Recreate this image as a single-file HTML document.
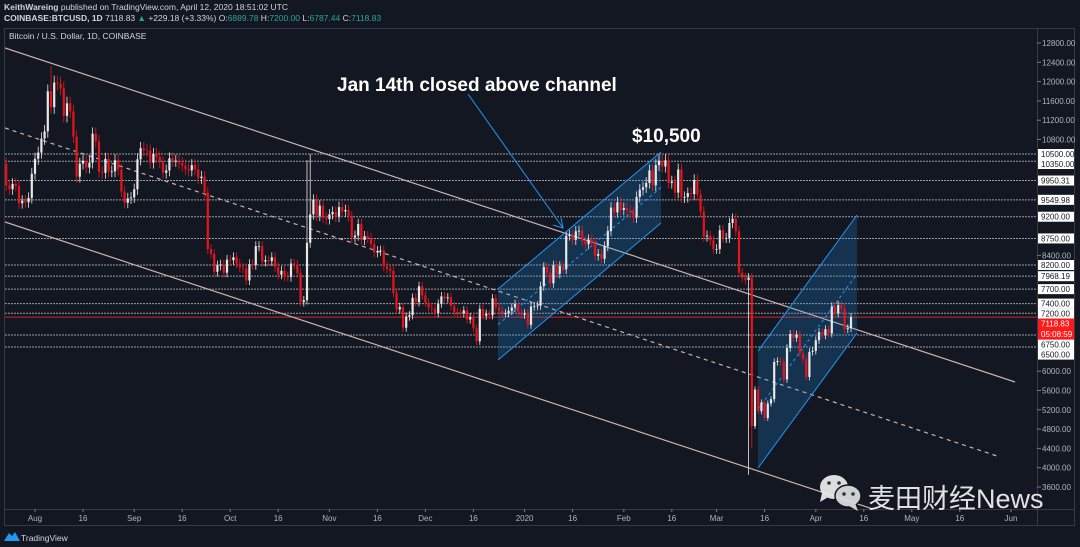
<!DOCTYPE html>
<html><head><meta charset="utf-8">
<style>
html,body{margin:0;padding:0;background:#131722;width:1080px;height:547px;overflow:hidden;font-family:"Liberation Sans","Noto Sans CJK SC",sans-serif;}
#hdr1{position:absolute;left:4px;top:2px;font-size:8.5px;color:#d1d4dc;}
#hdr2{position:absolute;left:4px;top:13px;font-size:8.5px;color:#d1d4dc;}
.g{color:#26a69a}
svg{position:absolute;left:0;top:0}
</style></head>
<body>
<div id="hdr1"><b>KeithWareing</b> published on TradingView.com, April 12, 2020 18:51:02 UTC</div>
<div id="hdr2"><b>COINBASE:BTCUSD, 1D</b> 7118.83 <span class="g">▲</span> +229.18 (+3.33%) O:<span class="g">6889.78</span> H:<span class="g">7200.00</span> L:<span class="g">6787.44</span> C:<span class="g">7118.83</span></div>
<svg id="chart" width="1080" height="547"></svg>
<script>
// ---- data ----
const startLabel = "2019-07-22";
const closes = [
10300,9850,9770,9880,9840,9480,9530,9500,9590,10090,
10400,10530,10820,10970,11800,11470,11980,11960,11860,11290,11550,11380,10860,10030,10300,10360,10220,10320,10920,10760,10130,10110,10400,10140,10140,10370,10180,9720,9490,9580,9600,
9770,10390,10620,10580,10570,10320,10500,10440,10330,10110,10160,10410,10360,10360,10310,10260,10190,10160,10270,10180,10000,10030,9700,8530,8430,8060,8190,8210,8040,8310,
8300,8360,8230,8150,8130,7880,8220,8200,8590,8590,8270,8300,8280,8360,8160,8000,8080,7960,7950,8230,8210,8030,7430,7470,8660,9250,9550,9220,9430,9180,9150,
9250,9300,9200,9400,9310,9340,9210,8770,8810,9050,8720,8800,8760,8630,8460,8490,8500,8170,8120,8080,7620,7280,7330,6900,7130,7160,7520,7430,7760,7570,
7420,7320,7300,7200,7400,7550,7510,7530,7350,7230,7210,7200,7260,7070,7120,6890,6620,7290,7150,7190,7160,7510,7320,7250,7200,7200,7250,7320,7390,7220,7170,
7200,6960,7340,7350,7360,7760,8160,8040,7820,8190,8020,8180,8110,8810,8820,8720,8900,8910,8700,8630,8730,8660,8390,8430,8330,8590,8900,9390,9290,9500,9340,
9380,9330,9290,9180,9610,9760,9810,9900,10160,9850,10270,10360,10240,10370,9900,9930,9700,10180,9600,9610,9690,9670,9960,9660,9310,8790,8810,8710,8530,
8530,8920,8760,8760,9070,9160,8900,8040,7940,7890,7940,4860,5620,5170,5350,5030,5330,5420,6190,6210,6190,5830,6480,6770,6690,6760,6370,6250,5880,6400,6420,
6640,6810,6740,6870,6780,7340,7200,7370,7300,6870,6890,7119
];
const firstOpen = 10580;
const extremeIdx = [15, 95, 96, 207, 233, 234, 176];
const extremeVal = [12320, 10370, 10500, 10500, 3850, 4400, 8880];
const priceTicks = [12800,12400,12000,11600,11200,10800,8400,6000,5600,5200,4800,4400,4000,3600,3200];
const levels = [10500,10350,9950.31,9549.98,9200,8750,8200,7968.19,7700,7400,7200,6750,6500];
const lastPrice = 7118.83;
const timeLabels = ["Aug","16","Sep","16","Oct","16","Nov","16","Dec","16","2020","16","Feb","16","Mar","16","Apr","16","May","16","Jun"];
const timeDays = [10,25,41,56,71,86,102,117,132,147,163,178,194,209,223,238,254,269,284,299,315];

// ---- scales ----
const PX_DAY = 3.2;
function xOf(i){ return 35 + (i - 10) * PX_DAY; }
function yOf(p){ return 43 + (12800 - p) * 0.04826; }

const NS = "http://www.w3.org/2000/svg";
const svg = document.getElementById('chart');
function mk(tag, attrs, parent){
  const e = document.createElementNS(NS, tag);
  for (const k in attrs) e.setAttribute(k, attrs[k]);
  (parent || svg).appendChild(e);
  return e;
}

const frame = mk('rect',{x:4.5,y:28.5,width:1070,height:497,fill:'#131722',stroke:'#363a45'});


const vsep = mk('line',{x1:1037.5,y1:28,x2:1037.5,y2:525,stroke:'#363a45'});


const hsep = mk('line',{x1:4,y1:509.5,x2:1075,y2:509.5,stroke:'#363a45'});



const title = mk('text',{x:9,y:39,fill:'#d1d4dc','font-size':8.5});
title.textContent = 'Bitcoin / U.S. Dollar, 1D, COINBASE';



const defs = mk('defs',{});
const cp = mk('clipPath',{id:'plot'},defs);
mk('rect',{x:5,y:29,width:1032,height:480},cp);
const plot = mk('g',{'clip-path':'url(#plot)'});



levels.forEach(p=>{
  const l = mk('line',{x1:5,x2:1037,y1:yOf(p),y2:yOf(p),stroke:'#9a9ca3','stroke-width':1,'stroke-dasharray':'2 1'},plot);
  
  
});
const lp = mk('line',{x1:5,x2:1037,y1:yOf(lastPrice),y2:yOf(lastPrice),stroke:'#c62828','stroke-width':1},plot);



const chCol = '#cfb3ab';
[[5,48,1015,382,''],[5,222,1015,556,''],[5,128,1000,457,'4 4']].forEach((c,k)=>{
  const l = mk('line',{x1:c[0],y1:c[1],x2:c[2],y2:c[3],stroke:chCol,'stroke-width':1.2,'stroke-dasharray':c[4]},plot);
  
  
});

function blueCh(x1,yt1,yb1,x2,yt2,yb2,name){
  const p = mk('polygon',{points:`${x1},${yt1} ${x2},${yt2} ${x2},${yb2} ${x1},${yb1}`,fill:'rgba(33,150,243,0.22)',stroke:'none'},plot);
  
  
  const a = mk('line',{x1:x1,y1:yt1,x2:x2,y2:yt2,stroke:'#2196f3','stroke-width':1},plot);
  
  
  const b = mk('line',{x1:x1,y1:yb1,x2:x2,y2:yb2,stroke:'#2196f3','stroke-width':1},plot);
  
  
  const m = mk('line',{x1:x1,y1:(yt1+yb1)/2,x2:x2,y2:(yt2+yb2)/2,stroke:'#2196f3','stroke-width':1,'stroke-dasharray':'3 3'},plot);
  
  
}
blueCh(498,289,360,661,152,223,'rising-channel-jan');
blueCh(758,351,468,857,215,333,'rising-channel-mar');

let prev = firstOpen;
closes.forEach((c,i)=>{
  const o = prev; prev = c;
  let hi = Math.max(o,c)*1.012, lo = Math.min(o,c)*0.988;
  const k = extremeIdx.indexOf(i);
  if (k>=0){ const v = extremeVal[k]; if (v>Math.max(o,c)) hi=v; else lo=v; }
  const up = c>=o;
  const col = up ? '#e8e8e8' : '#e8141b';
  const x = xOf(i);
  const g = mk('g',{},plot);
  
  
  mk('line',{x1:x,x2:x,y1:yOf(hi),y2:yOf(lo),stroke:col,'stroke-width':0.8},g);
  const yt = yOf(Math.max(o,c)), yb = yOf(Math.min(o,c));
  mk('rect',{x:x-1.1,y:yt,width:2.2,height:Math.max(0.8,yb-yt),fill:col},g);
});

const arr = mk('line',{x1:468,y1:94,x2:563,y2:228,stroke:'#2196f3','stroke-width':1},plot);


mk('polyline',{points:'553,225 563,228 561,218',fill:'none',stroke:'#2196f3','stroke-width':1},plot);

const t1 = mk('text',{x:337,y:91,fill:'#ffffff','font-size':19,'font-weight':'bold'});
t1.textContent = 'Jan 14th closed above channel';


const t2 = mk('text',{x:632,y:142,fill:'#ffffff','font-size':19,'font-weight':'bold'});
t2.textContent = '$10,500';



// price axis ticks
priceTicks.forEach(p=>{
  const y = yOf(p);
  if (y>505) return;
  mk('line',{x1:1037,x2:1041,y1:y,y2:y,stroke:'#787b86'});
  const t = mk('text',{x:1042,y:y+3,fill:'#b2b5be','font-size':8});
  t.textContent = p.toFixed(2);
  
  
});

// axis labels with de-overlap
const items = levels.map(p=>({p:p, h:10, red:false}));
items.push({p:lastPrice, h:21, red:true});
items.sort((a,b)=>b.p-a.p);
let lastBottom = -1e9;
items.forEach(it=>{
  let top = yOf(it.p) - 5;
  if (it.red) top = yOf(it.p) - 5;
  if (top < lastBottom) top = lastBottom;
  it.top = top; lastBottom = top + it.h;
});
items.forEach(it=>{
  if (it.red){
    mk('rect',{x:1038,y:it.top,width:36,height:it.h,fill:'#ff1a1a'});
    const a = mk('text',{x:1041,y:it.top+8,fill:'#ffffff','font-size':8});
    a.textContent = lastPrice.toFixed(2);
    
    
    const b = mk('text',{x:1041,y:it.top+18.5,fill:'#ffffff','font-size':8});
    b.textContent = '05:08:59';
    
    
  } else {
    mk('rect',{x:1038,y:it.top,width:36,height:it.h,fill:'#ffffff'});
    const t = mk('text',{x:1041,y:it.top+8,fill:'#131722','font-size':8});
    t.textContent = it.p.toFixed(2);
    
    
  }
});

timeLabels.forEach((s,i)=>{
  const x = xOf(timeDays[i]);
  mk('line',{x1:x,x2:x,y1:509,y2:512,stroke:'#787b86'});
  const t = mk('text',{x:x,y:521,fill:'#b2b5be','font-size':8,'text-anchor':'middle'});
  t.textContent = s;
  
  
});

const lg = mk('g',{});


mk('path',{d:'M4,541 L9,533 L12,536 L15,532 L20,541 Z',fill:'#2196f3'},lg);
const lt = mk('text',{x:21,y:541,fill:'#d1d4dc','font-size':8.5},lg);
lt.textContent = 'TradingView';

const wm = mk('g',{opacity:0.92});


mk('ellipse',{cx:834,cy:487,rx:14,ry:12,fill:'#eeeeee'},wm);
mk('polygon',{points:'822,493 820,502 830,496',fill:'#eeeeee'},wm);
mk('ellipse',{cx:848,cy:496,rx:13,ry:11,fill:'#e0e0e0',stroke:'#131722','stroke-width':1.5},wm);
mk('polygon',{points:'855,503 858,511 849,506',fill:'#e0e0e0'},wm);
[[829,483],[839,483],[844,494],[853,494]].forEach(p=>mk('circle',{cx:p[0],cy:p[1],r:1.8,fill:'#333'},wm));
const wt = mk('text',{x:868,y:508,fill:'#f4f4f4','font-size':27,'font-family':'"Liberation Sans","Noto Sans CJK SC",sans-serif'},wm);
wt.textContent = '麦田财经News';
</script>
</body></html>
